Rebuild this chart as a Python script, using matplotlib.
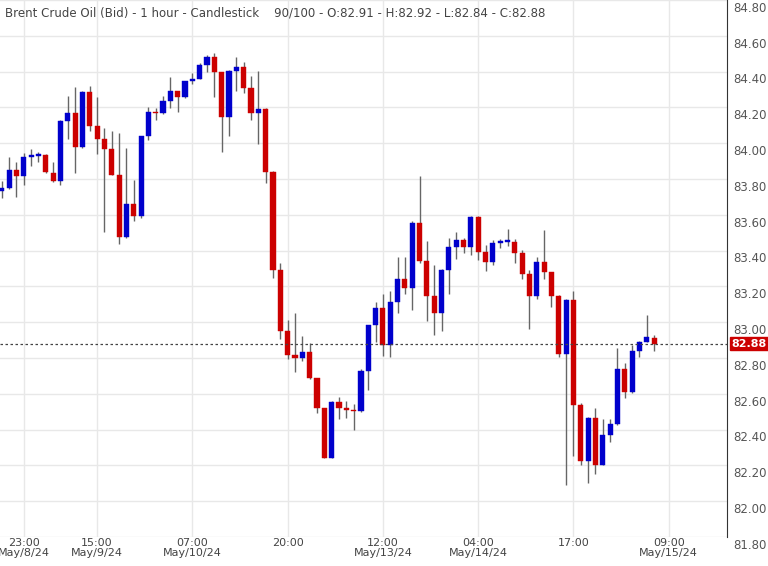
import matplotlib
matplotlib.use("Agg")
import matplotlib.pyplot as plt
from matplotlib.transforms import blended_transform_factory

# OHLC (1 hour candles)
opens = [83.735, 83.750, 83.848, 83.815, 83.925, 83.930, 83.934, 83.833, 83.787, 84.125,
         84.168, 83.978, 84.287, 84.097, 84.023, 83.967, 83.824, 83.475, 83.662, 83.592,
         84.038, 84.177, 84.168, 84.233, 84.294, 84.257, 84.350, 84.358, 84.438, 84.484,
         84.395, 84.149, 84.406, 84.428, 84.307, 84.168, 84.190, 83.837, 83.290, 82.950,
         82.815, 82.800, 82.833, 82.686, 82.519, 82.244, 82.556, 82.523, 82.510, 82.504,
         82.727, 82.982, 83.081, 82.874, 83.114, 83.244, 83.192, 83.554, 83.344, 83.145,
         83.052, 83.294, 83.421, 83.461, 83.421, 83.586, 83.391, 83.335, 83.445, 83.449,
         83.449, 83.387, 83.272, 83.146, 83.335, 83.279, 83.149, 82.824, 83.123, 82.536,
         82.225, 82.467, 82.203, 82.368, 82.430, 82.737, 82.610, 82.839, 82.891, 82.910]
highs = [83.787, 83.923, 83.893, 83.945, 83.967, 83.949, 83.940, 83.893, 84.130, 84.261,
         84.313, 84.290, 84.317, 84.256, 84.084, 84.066, 84.057, 83.973, 83.796, 84.040,
         84.205, 84.196, 84.261, 84.369, 84.294, 84.350, 84.391, 84.447, 84.493, 84.503,
         84.400, 84.410, 84.480, 84.456, 84.376, 84.406, 84.196, 83.842, 83.331, 83.015,
         83.053, 82.922, 82.885, 82.690, 82.522, 82.560, 82.584, 82.560, 82.541, 82.737,
         82.985, 83.112, 83.155, 83.173, 83.365, 83.365, 83.564, 83.815, 83.456, 83.317,
         83.296, 83.471, 83.502, 83.471, 83.592, 83.596, 83.434, 83.462, 83.465, 83.521,
         83.467, 83.402, 83.290, 83.365, 83.517, 83.282, 83.152, 83.131, 83.173, 82.551,
         82.470, 82.523, 82.458, 82.458, 82.854, 82.774, 82.872, 82.893, 83.043, 82.926]
lows = [83.694, 83.745, 83.700, 83.765, 83.874, 83.893, 83.833, 83.785, 83.765, 84.023,
        83.833, 83.975, 84.066, 83.941, 83.502, 83.820, 83.437, 83.470, 83.564, 83.582,
        84.019, 84.127, 84.164, 84.196, 84.177, 84.255, 84.330, 84.356, 84.395, 84.257,
        83.949, 84.038, 84.293, 84.280, 84.127, 83.995, 83.778, 83.248, 82.904, 82.792,
        82.724, 82.783, 82.685, 82.495, 82.240, 82.240, 82.461, 82.467, 82.398, 82.500,
        82.620, 82.889, 82.811, 82.805, 83.049, 83.155, 83.067, 83.331, 83.006, 82.926,
        82.950, 83.155, 83.354, 83.384, 83.374, 83.350, 83.285, 83.317, 83.415, 83.425,
        83.330, 83.244, 82.963, 83.130, 83.244, 83.086, 82.805, 82.091, 82.253, 82.203,
        82.101, 82.151, 82.200, 82.331, 82.428, 82.578, 82.605, 82.807, 82.888, 82.840]
closes = [83.750, 83.848, 83.815, 83.923, 83.930, 83.934, 83.837, 83.787, 84.125, 84.168,
          83.978, 84.287, 84.097, 84.023, 83.967, 83.824, 83.475, 83.662, 83.592, 84.038,
          84.177, 84.168, 84.233, 84.294, 84.257, 84.345, 84.354, 84.438, 84.484, 84.395,
          84.149, 84.406, 84.428, 84.307, 84.168, 84.190, 83.837, 83.294, 82.950, 82.815,
          82.800, 82.833, 82.686, 82.519, 82.244, 82.556, 82.523, 82.510, 82.504, 82.727,
          82.982, 83.081, 82.874, 83.114, 83.244, 83.192, 83.554, 83.344, 83.145, 83.052,
          83.294, 83.421, 83.461, 83.421, 83.586, 83.391, 83.335, 83.443, 83.449, 83.452,
          83.387, 83.272, 83.146, 83.335, 83.279, 83.149, 82.824, 83.123, 82.536, 82.225,
          82.467, 82.203, 82.368, 82.430, 82.737, 82.610, 82.839, 82.891, 82.920, 82.880]

tick_pos = [3, 13, 26, 39, 52, 65, 78, 91]
tick_labels = ["23:00\nMay/8/24", "15:00\nMay/9/24", "07:00\nMay/10/24", "20:00\n ",
               "12:00\nMay/13/24", "04:00\nMay/14/24", "17:00\n ", "09:00\nMay/15/24"]
price_ticks = [81.8, 82.0, 82.2, 82.4, 82.6, 82.8, 83.0, 83.2, 83.4, 83.6,
               83.8, 84.0, 84.2, 84.4, 84.6, 84.8]
last_price = 82.88

UP = "#0000cc"
DOWN = "#cc0000"

fig = plt.figure(figsize=(7.68, 5.66), dpi=100)
ax = fig.add_axes([0, 29 / 566, 727 / 768, 537 / 566])

for i in range(len(opens)):
    o, h, l, c = opens[i], highs[i], lows[i], closes[i]
    col = UP if c >= o else DOWN
    ax.vlines(i, l, h, color="#666666", lw=1, zorder=2)
    ax.bar(i, max(abs(c - o), 0.008), bottom=min(o, c), width=0.7,
           color=col, edgecolor=col, lw=0.3, zorder=3)

ax.set_xlim(-0.25, 98.95)
ax.set_ylim(81.8, 84.8)
ax.set_xticks(tick_pos)
ax.set_xticklabels(tick_labels, fontsize=8, color="#444444", linespacing=0.95)
ax.tick_params(axis="x", length=0, pad=1)
ax.set_yticks(price_ticks)
ax.set_yticklabels([])
ax.tick_params(axis="y", length=0)
ax.grid(True, color="#e8e8e8", lw=1, zorder=0)
for s in ["top", "left", "bottom"]:
    ax.spines[s].set_visible(False)
ax.spines["right"].set_color("#333333")

# right-hand price labels, drawn under their grid line
tr = blended_transform_factory(ax.transAxes, ax.transData)
for p in price_ticks:
    ax.text(1.008, p - 0.01, f"{p:.2f}", transform=tr, ha="left", va="top",
            fontsize=8.5, color="#555555", clip_on=False)

ax.axhline(last_price, color="#444444", lw=0.9, ls=(0, (2, 2)), zorder=4)
ax.text(1.006, last_price, f"{last_price:.2f}", transform=tr, ha="left", va="center",
        fontsize=8, color="white", fontweight="bold", clip_on=False,
        bbox=dict(boxstyle="square,pad=0.15", fc=DOWN, ec=DOWN))

fig.text(5 / 768, 1 - 13 / 566,
         "Brent Crude Oil (Bid) - 1 hour - Candlestick    90/100 - O:82.91 - H:82.92 - L:82.84 - C:82.88",
         fontsize=8.5, color="#444444", va="center")

fig.savefig("out.png", dpi=100)
